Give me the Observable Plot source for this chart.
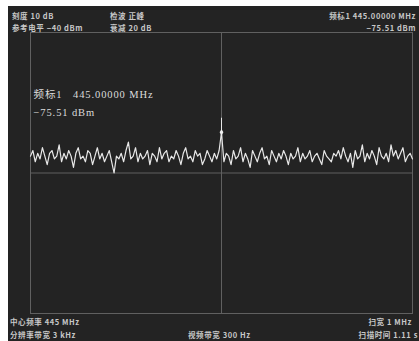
<!DOCTYPE html>
<html><head><meta charset="utf-8">
<script src="https://cdn.jsdelivr.net/npm/d3@7"></script>
<script src="https://cdn.jsdelivr.net/npm/@observablehq/plot@0.6"></script>
<style>
body{margin:0;background:#fff;}
#wrap{position:relative;width:419px;height:341px;background:#fff;overflow:hidden;}
#dark{position:absolute;left:8px;top:6px;width:411px;height:335px;background:#232323;}
#chart{position:absolute;left:8px;top:6px;}
.t{position:absolute;font-family:"Noto Sans CJK SC","DejaVu Sans",sans-serif;font-size:7.5px;font-weight:bold;color:#c8c8c8;line-height:9px;white-space:nowrap;letter-spacing:0.6px;}
.r{text-align:right;}
</style>
</head><body>
<div id="wrap">
<div id="dark"></div>
<div id="chart"></div>
</div>
<script>
// sweep settings
const centerMHz = 445;
const spanMHz = 1;
const refLevel = -40;      // dBm at top
const scaleDiv = 10;       // dB per division
// header/footer labels
const headerLeft = ["刻度 10 dB", "参考电平 −40 dBm"];
const headerMid = ["检波 正峰", "衰减 20 dB"];
const headerRight = ["频标1  445.00000 MHz", "−75.51 dBm"];
const footerLeft = ["中心频率 445 MHz", "分辨率带宽 3 kHz"];
const footerMid = ["视频带宽 300 Hz"];
const footerRight = ["扫宽 1 MHz", "扫描时间 1.11 s"];
const markerLabel = ["频标1   445.00000 MHz", "−75.51 dBm"];
const markerFreq = 445.0;
const markerLevel = -75.51;
// trace amplitudes (dBm), 161 sweep points across the span
const trace = [
-84,-82,-86,-83,-85,-81,-84,-87,-83,-82,
-85,-84,-80,-86,-83,-85,-82,-84,-88,-83,
-81,-85,-84,-86,-82,-83,-87,-84,-81,-85,
-83,-86,-84,-82,-86,-90,-84,-85,-83,-86,
-82,-79,-85,-84,-81,-86,-83,-85,-84,-82,
-87,-83,-84,-86,-81,-85,-83,-82,-86,-84,
-85,-82,-84,-87,-83,-81,-85,-84,-86,-82,
-84,-83,-87,-85,-82,-84,-86,-83,-85,-82,
-75.5,
-86,-83,-84,-87,-82,-85,-84,-81,-86,-83,
-85,-88,-82,-84,-86,-83,-81,-85,-84,-87,
-82,-84,-86,-83,-85,-82,-84,-87,-83,-85,
-84,-81,-86,-83,-85,-84,-82,-86,-84,-83,
-85,-87,-82,-84,-85,-86,-83,-84,-82,-85,
-81,-84,-86,-83,-88,-82,-85,-84,-80,-86,
-83,-85,-82,-84,-87,-81,-84,-85,-83,-86,
-80,-84,-82,-85,-83,-81,-86,-84,-83,-85
];

const f0 = centerMHz - spanMHz/2, f1 = centerMHz + spanMHz/2;
const data = trace.map((v,i)=>({f: f0 + i*spanMHz/(trace.length-1), v}));
const bottom = refLevel - 10*scaleDiv;

const chart = Plot.plot({
  width: 411, height: 335,
  marginLeft: 22, marginTop: 26, marginRight: 7, marginBottom: 28,
  style: {background: "transparent"},
  x: {domain: [f0, f1], axis: null},
  y: {domain: [bottom, refLevel], axis: null},
  marks: [
    Plot.frame({stroke: "#606060", strokeWidth: 1}),
    Plot.ruleX([centerMHz], {stroke: "#606060", strokeWidth: 1}),
    Plot.ruleY([refLevel - 5*scaleDiv], {stroke: "#606060", strokeWidth: 1}),
    Plot.line(data, {x: "f", y: "v", stroke: "#e8e8e8", strokeWidth: 1.2}),
    Plot.ruleX([markerFreq], {y1: markerLevel, y2: markerLevel + 5, stroke: "#e6e6e6", strokeWidth: 1}),
    Plot.dot([markerFreq], {x: d=>d, y: markerLevel, symbol: "diamond", r: 2, fill: "#f0f0f0", stroke: null}),
    Plot.text([markerLabel[0]], {frameAnchor: "top-left", dx: 3, dy: 58, fill: "#dcdcdc",
      fontSize: 10.5, fontFamily: "'Liberation Serif','Noto Sans CJK SC',serif", textAnchor: "start"}),
    Plot.text([markerLabel[1]], {frameAnchor: "top-left", dx: 3, dy: 76, fill: "#dcdcdc",
      fontSize: 10.5, fontFamily: "'Liberation Serif','Noto Sans CJK SC',serif", textAnchor: "start"})
  ]
});
d3.select(chart).selectAll("text").style("letter-spacing", "0.9px");
document.getElementById("chart").appendChild(chart);

const wrap = document.getElementById("wrap");
function addText(txt, x, y, right){
  const d = document.createElement("div");
  d.className = "t" + (right ? " r" : "");
  d.textContent = txt;
  d.style.top = (y - 4.5) + "px";
  if (right) d.style.right = (419 - x) + "px"; else d.style.left = x + "px";
  wrap.appendChild(d);
}
addText(headerLeft[0], 12, 15); addText(headerLeft[1], 12, 27);
addText(headerMid[0], 110, 15); addText(headerMid[1], 110, 27);
addText(headerRight[0], 416, 15, true); addText(headerRight[1], 416, 27, true);
addText(footerLeft[0], 10, 321); addText(footerLeft[1], 10, 334);
addText(footerMid[0], 188, 334);
addText(footerRight[0], 412, 321, true); addText(footerRight[1], 418, 334, true);
</script>
</body></html>
